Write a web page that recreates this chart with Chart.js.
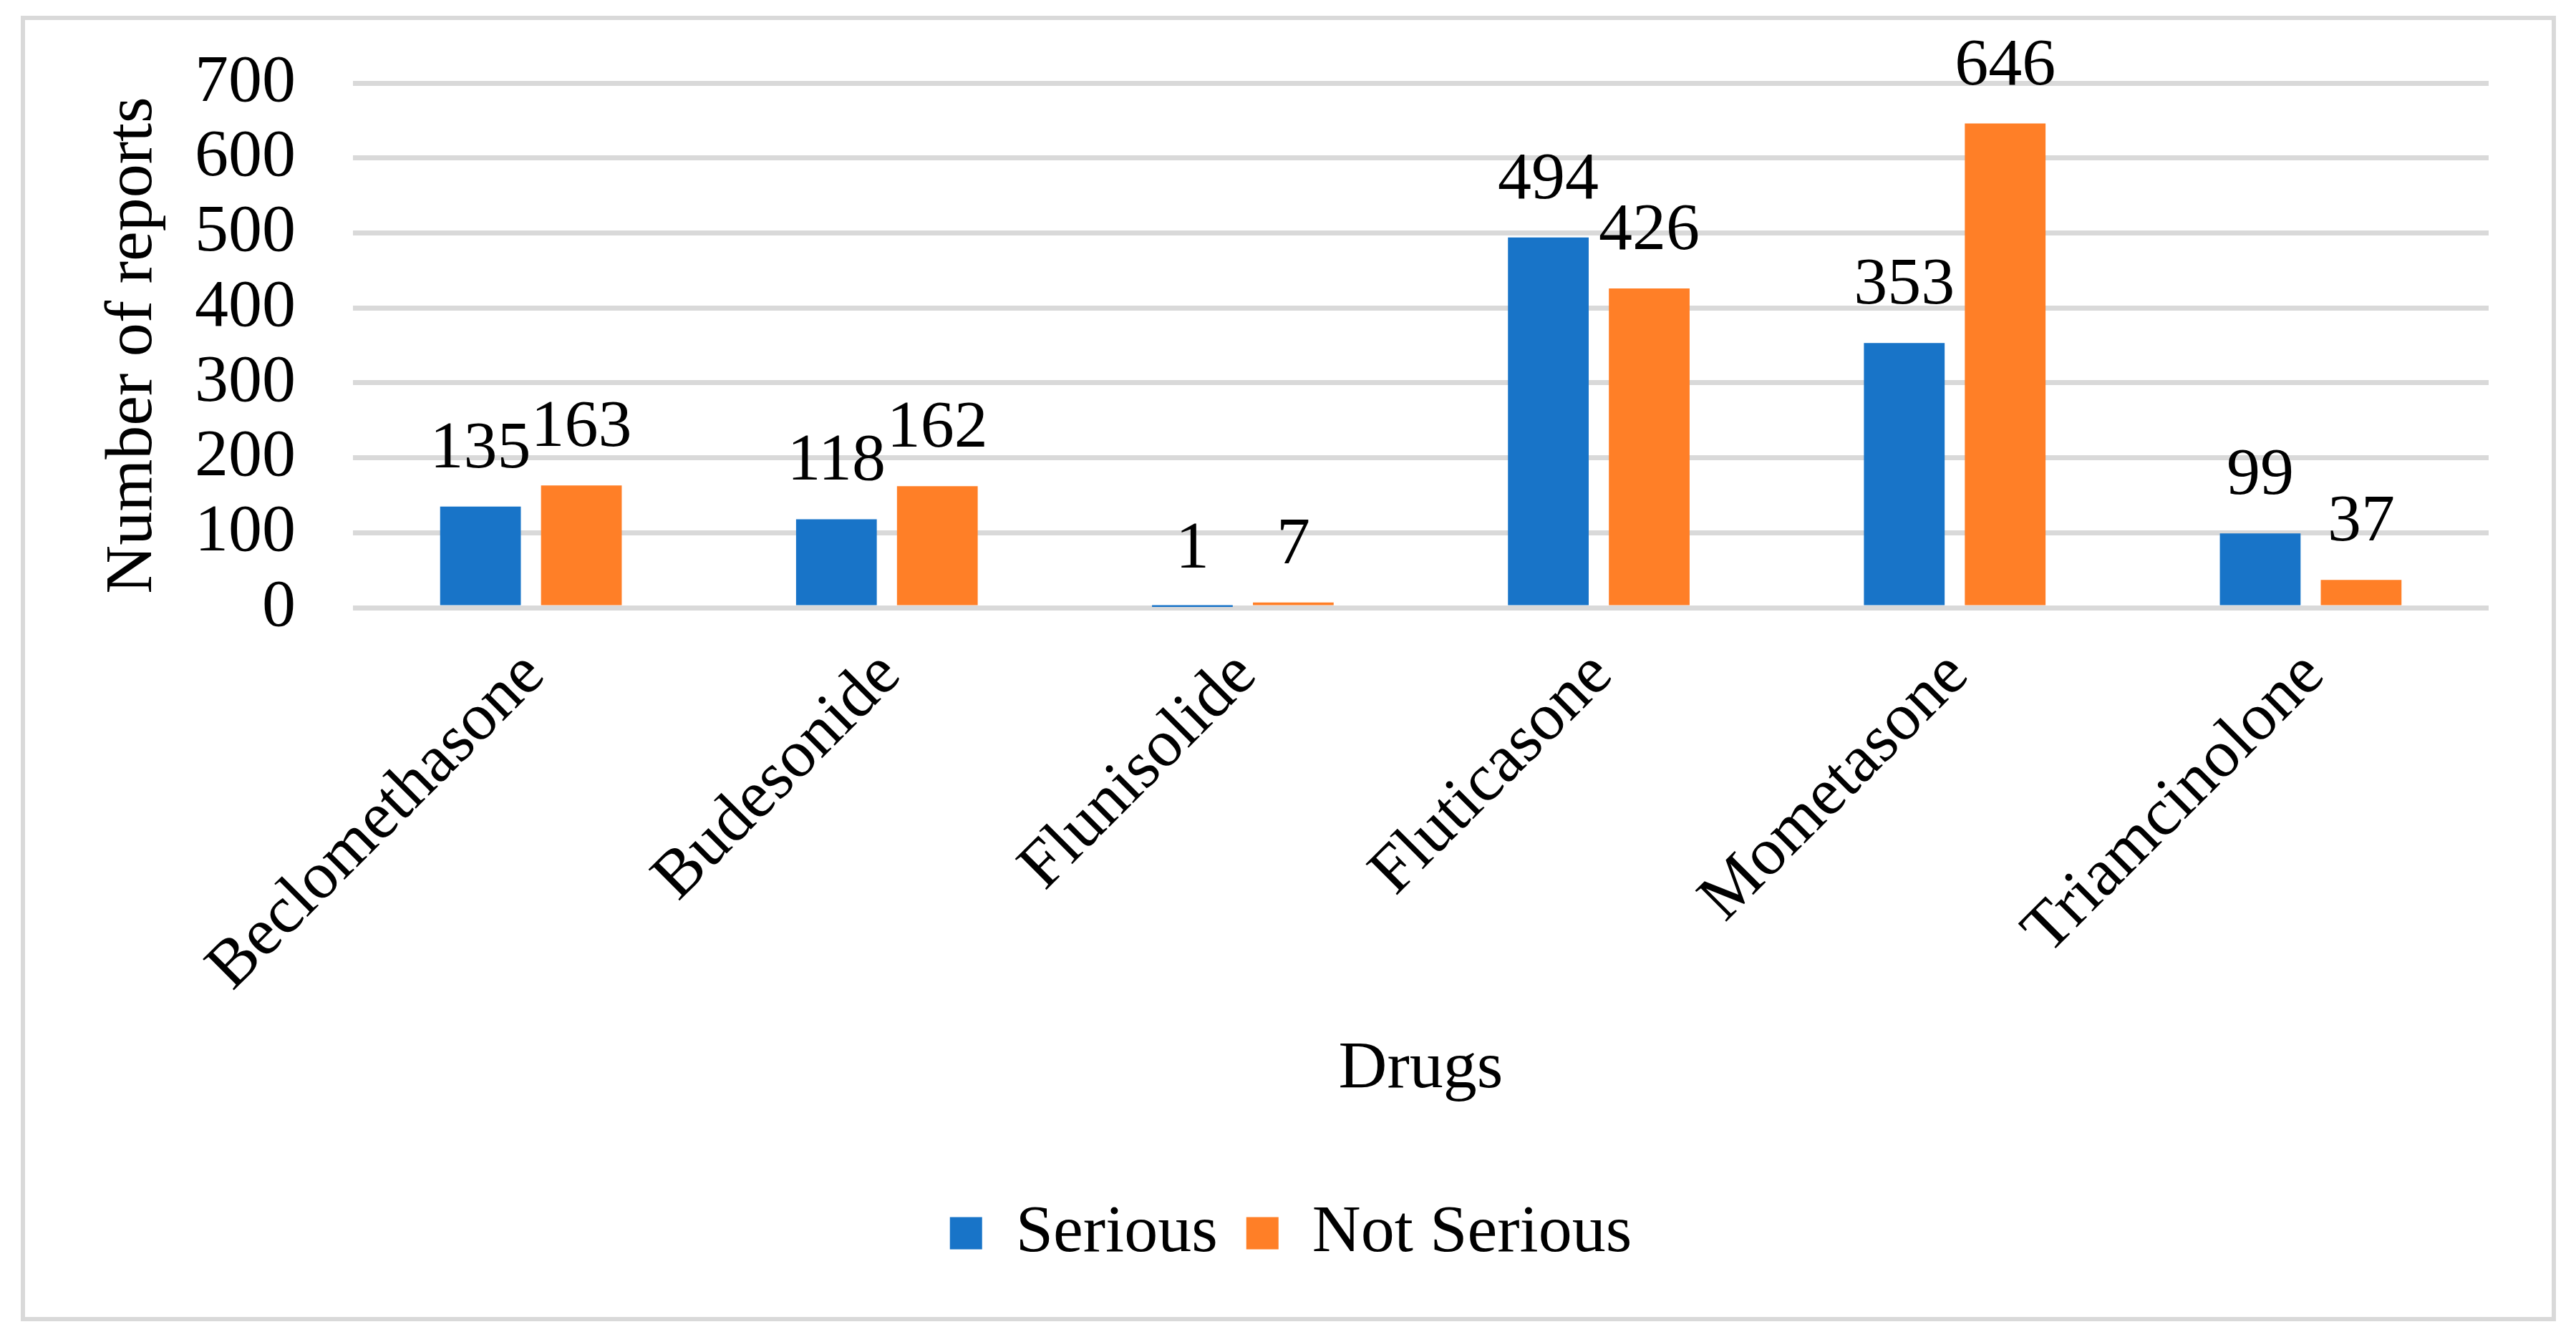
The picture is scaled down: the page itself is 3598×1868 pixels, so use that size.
<!DOCTYPE html>
<html>
<head>
<meta charset="utf-8">
<title>Reports by drug</title>
<script src="https://cdn.jsdelivr.net/npm/chart.js@4.4.1/dist/chart.umd.min.js"></script>
<style>
  html, body { margin: 0; padding: 0; background: #fff; }
  canvas { display: block; }
</style>
</head>
<body>
<canvas id="chart" width="3598" height="1868"></canvas>
<script>
// data
const drugs = ['Beclomethasone', 'Budesonide', 'Flunisolide', 'Fluticasone', 'Mometasone', 'Triamcinolone'];
const serious = [135, 118, 1, 494, 353, 99];
const notSerious = [163, 162, 7, 426, 646, 37];
const yMin = 0;
const yMax = 700;
const yStep = 100;

const FONT = 'Liberation Serif';
const SIZE = 94;

Chart.defaults.font.family = FONT;
Chart.defaults.font.size = SIZE;
Chart.defaults.color = '#000';

// grey frame round the whole chart
const framePlugin = {
  id: 'frame',
  beforeDraw(chart) {
    const ctx = chart.ctx;
    ctx.save();
    ctx.fillStyle = '#fff';
    ctx.fillRect(0, 0, chart.width, chart.height);
    ctx.strokeStyle = '#d9d9d9';
    ctx.lineWidth = 6;
    ctx.strokeRect(32, 25, 3535, 1818);
    ctx.restore();
  }
};

// value above each bar
const valueLabels = {
  id: 'valueLabels',
  afterDatasetsDraw(chart) {
    const ctx = chart.ctx;
    ctx.save();
    ctx.font = SIZE + 'px "' + FONT + '"';
    ctx.fillStyle = '#000';
    ctx.textAlign = 'center';
    ctx.textBaseline = 'alphabetic';
    chart.data.datasets.forEach((ds, i) => {
      chart.getDatasetMeta(i).data.forEach((bar, j) => {
        ctx.fillText(String(ds.data[j]), bar.x, bar.y - 55);
      });
    });
    ctx.restore();
  }
};

new Chart(document.getElementById('chart'), {
  type: 'bar',
  data: {
    labels: drugs,
    datasets: [
      {
        label: 'Serious',
        data: serious,
        backgroundColor: '#1874c8',
        categoryPercentage: 0.567,
        barPercentage: 0.8
      },
      {
        label: 'Not Serious',
        data: notSerious,
        backgroundColor: '#ff7f27',
        categoryPercentage: 0.567,
        barPercentage: 0.8
      }
    ]
  },
  options: {
    responsive: false,
    animation: false,
    devicePixelRatio: 1,
    layout: {
      padding: { left: 130, right: 122, top: 116, bottom: 88 }
    },
    plugins: {
      tooltip: { enabled: false },
      legend: {
        position: 'bottom',
        labels: {
          boxWidth: 45,
          boxHeight: 45,
          padding: 40,
          color: '#000',
          font: { family: FONT, size: SIZE }
        }
      }
    },
    scales: {
      x: {
        grid: { display: false, drawTicks: false },
        border: { display: false },
        ticks: {
          autoSkip: false,
          minRotation: 45,
          maxRotation: 45,
          padding: 40,
          labelOffset: 5,
          color: '#000'
        },
        title: {
          display: true,
          text: 'Drugs',
          color: '#000',
          padding: { top: 0, bottom: 85 }
        },
        afterFit(scale) { scale.height = 787; }
      },
      y: {
        min: yMin,
        max: yMax,
        // invisible tick marks give the gap between labels and plot
        grid: {
          color: '#d9d9d9',
          lineWidth: 7,
          drawTicks: true,
          tickLength: 80,
          tickColor: 'rgba(0,0,0,0)'
        },
        border: { display: false },
        ticks: {
          stepSize: yStep,
          autoSkip: false,
          padding: 0,
          color: '#000'
        },
        title: {
          display: true,
          text: 'Number of reports',
          color: '#000',
          padding: { top: 0, bottom: 0 }
        },
        afterFit(scale) { scale.width = 363; }
      }
    }
  },
  plugins: [framePlugin, valueLabels]
});
</script>
</body>
</html>
